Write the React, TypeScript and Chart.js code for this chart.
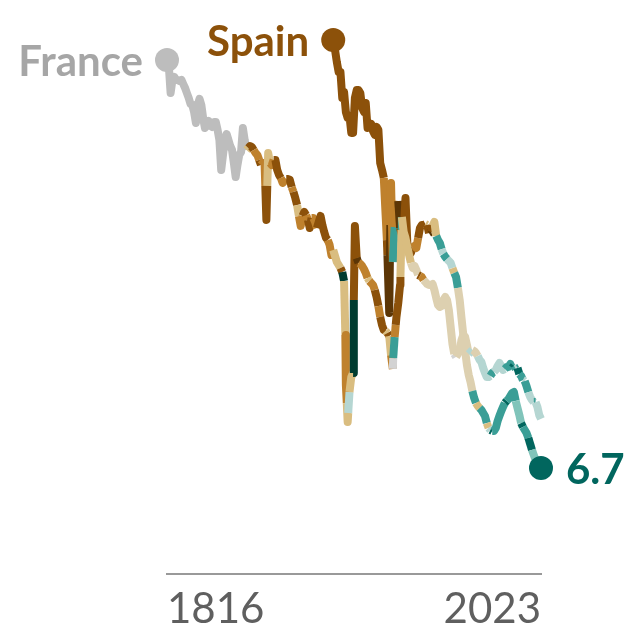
import { useEffect, useRef } from 'react';
import { Chart, registerables } from 'chart.js';

Chart.register(...registerables);

const tickYears = [1816, 2023];

const palette: Record<string, string> = {
  grey: '#bdbdbd',
  pgrey: '#d3d3d3',
  dbrown: '#5c3606',
  brown: '#8c510a',
  orange: '#bf812d',
  tan: '#d9bd80',
  pale: '#ddd0b0',
  light: '#b5d6d2',
  mid: '#80c4ba',
  teal: '#3a9e96',
  dark: '#01665e',
  green: '#003c30',
};

// births per 1000: [year, value]
const franceSeries = [
  [1816, 32.49], [1817, 32.11], [1818, 30.4], [1819, 31.23], [1820, 31.42], [1821, 31.23], [1822, 31.23], [1823, 31.16],
  [1824, 31.23], [1825, 30.97], [1826, 30.72], [1827, 30.4], [1828, 30.09], [1829, 29.71], [1830, 29.65], [1831, 29.2],
  [1832, 28.51], [1833, 29.65], [1834, 30.03], [1835, 29.65], [1836, 28.82], [1837, 28.19], [1838, 28.38], [1839, 28.64],
  [1840, 28.38], [1841, 28.26], [1842, 28.57], [1843, 28.57], [1844, 28.07], [1845, 27.43], [1846, 25.54], [1847, 26.49],
  [1848, 27.43], [1849, 27.81], [1850, 27.43], [1851, 27.05], [1852, 26.8], [1853, 25.98], [1854, 25.09], [1855, 25.85],
  [1856, 26.49], [1857, 26.68], [1858, 28.19], [1859, 27.43], [1860, 26.8], [1861, 26.93], [1862, 27.05], [1863, 26.99],
  [1864, 26.8], [1865, 26.61], [1866, 26.49], [1867, 26.17], [1868, 25.85], [1869, 25.98], [1870, 25.92], [1870.4, 24.53],
  [1871, 22.38], [1871.5, 24.53], [1872, 26.61], [1873, 25.98], [1874, 25.85], [1875, 26.17], [1876, 26.17], [1877, 25.54],
  [1878, 25.22], [1879, 25.03], [1880, 24.72], [1881, 24.84], [1882, 24.97], [1883, 24.97], [1884, 24.91], [1885, 24.46],
  [1886, 24.15], [1887, 23.77], [1888, 23.32], [1889, 22.63], [1890, 22.0], [1891, 22.63], [1892, 22.88], [1893, 22.69],
  [1894, 22.38], [1895, 21.87], [1896, 22.5], [1897, 22.5], [1898, 22.25], [1899, 21.87], [1900, 22.25], [1901, 22.63],
  [1902, 22.06], [1903, 21.62], [1904, 21.24], [1905, 21.11], [1906, 20.8], [1907, 20.16], [1908, 20.48], [1909, 20.1],
  [1910, 19.72], [1911, 19.53], [1912, 19.34], [1913, 19.09], [1914, 18.52], [1914.7, 15.11], [1915, 11.95], [1915.5, 10.81],
  [1916, 9.61], [1916.3, 10.18], [1917, 11.5], [1918, 12.45], [1919, 12.71], [1919.4, 17.32], [1920, 22.0], [1921, 19.97], [1922, 19.66],
  [1923, 19.6], [1924, 19.47], [1925, 19.28], [1926, 19.03], [1927, 18.71], [1928, 18.52], [1929, 18.39], [1930, 18.27],
  [1931, 17.95], [1932, 17.51], [1933, 16.94], [1934, 16.25], [1935, 15.74], [1936, 15.42], [1937, 15.36], [1938, 15.23],
  [1939, 15.04], [1940, 13.84], [1941, 12.96], [1941.2, 13.65], [1942, 14.98], [1942.6, 15.74], [1943, 16.25], [1944, 17.13],
  [1945, 18.27], [1945.2, 18.77], [1945.8, 21.74], [1946, 22.57], [1947, 21.62], [1948, 21.24], [1949, 20.67], [1950, 20.16],
  [1951, 19.66], [1952, 19.34], [1953, 19.47], [1954, 19.22], [1955, 18.9], [1956, 18.84], [1957, 18.77], [1958, 18.58],
  [1959, 18.46], [1960, 18.33], [1961, 18.27], [1962, 18.27], [1963, 18.33], [1964, 17.95], [1965, 17.45], [1966, 17.0],
  [1967, 16.88], [1968, 16.94], [1969, 17.32], [1970, 17.51], [1971, 17.32], [1972, 16.69], [1973, 15.61], [1974, 14.54],
  [1975, 13.91], [1976, 13.72], [1977, 13.91], [1978, 14.1], [1979, 14.79], [1980, 15.11], [1981, 14.98], [1982, 14.48],
  [1983, 13.91], [1984, 14.03], [1985, 14.16], [1986, 14.1], [1987, 13.97], [1988, 13.78], [1989, 13.53], [1990, 13.4],
  [1991, 13.02], [1992, 12.71], [1993, 12.45], [1994, 12.45], [1995, 12.52], [1996, 12.71], [1997, 12.77], [1998, 12.9],
  [1999, 13.15], [2000, 13.34], [2001, 13.15], [2002, 12.9], [2003, 12.96], [2004, 13.08], [2005, 13.08], [2006, 13.27],
  [2007, 13.02], [2008, 13.15], [2009, 12.96], [2010, 13.02], [2011, 12.64], [2012, 12.52], [2013, 12.26], [2014, 12.2],
  [2015, 11.88], [2016, 11.5], [2017, 11.19], [2018, 11.0], [2019, 10.87], [2020, 10.87], [2021, 10.56], [2022, 10.05],
  [2023, 9.8],
];

const spainSeries = [
  [1908, 33.75], [1909, 33.12], [1910, 32.36], [1911, 31.73], [1912, 31.73], [1913, 30.09], [1914, 30.47], [1915, 29.2],
  [1916, 28.82], [1917, 28.95], [1918, 27.88], [1919, 27.88], [1920, 30.09], [1921, 30.59], [1922, 30.59], [1923, 30.4],
  [1924, 29.46], [1925, 29.2], [1926, 29.77], [1927, 28.19], [1928, 28.38], [1929, 28.45], [1930, 28.0], [1931, 27.75],
  [1932, 28.26], [1933, 28.07], [1934, 25.98], [1935, 25.54], [1936, 25.03], [1937, 22.69], [1937.7, 21.11], [1938, 20.16],
  [1939, 16.5], [1939.6, 22.06], [1940, 24.72], [1941, 19.72], [1942, 21.93], [1943, 22.69], [1944, 23.58], [1945, 21.87],
  [1946, 21.43], [1947, 21.62], [1948, 23.77], [1949, 20.92], [1950, 20.48], [1951, 20.29], [1952, 20.61], [1953, 20.73],
  [1954, 20.61], [1955, 21.24], [1956, 21.87], [1957, 22.06], [1958, 22.06], [1959, 22.12], [1960, 22.06], [1961, 21.55],
  [1962, 21.62], [1963, 22.0], [1964, 22.25], [1965, 21.37], [1966, 21.11], [1967, 20.92], [1968, 20.54], [1969, 20.23],
  [1970, 20.04], [1971, 19.91], [1972, 19.79], [1973, 19.66], [1974, 19.34], [1975, 19.03], [1976, 18.77], [1977, 18.08],
  [1978, 17.32], [1979, 16.18], [1980, 15.11], [1981, 14.1], [1982, 13.21], [1983, 12.58], [1984, 12.14], [1985, 11.57],
  [1986, 11.13], [1987, 10.81], [1988, 10.62], [1989, 10.49], [1990, 10.37], [1991, 10.18], [1992, 9.99], [1993, 9.54],
  [1994, 9.23], [1995, 9.1], [1996, 9.04], [1997, 9.04], [1998, 9.23], [1999, 9.67], [2000, 9.99], [2001, 10.3],
  [2002, 10.56], [2003, 10.81], [2004, 10.94], [2005, 11.06], [2006, 11.25], [2007, 11.44], [2008, 11.5], [2009, 10.94],
  [2010, 10.49], [2011, 10.05], [2012, 9.54], [2013, 9.29], [2014, 9.1], [2015, 8.91], [2016, 8.6], [2017, 8.22],
  [2018, 7.84], [2019, 7.52], [2020, 7.21], [2021, 7.08], [2022, 6.89], [2023, 6.7],
];

// colour runs: the year each run starts, and its colour
const franceBandYears = [
  1816, 1860, 1861, 1864, 1867, 1868, 1870.4, 1871.5, 1873, 1875, 1879, 1882, 1885, 1886, 1888, 1889, 1891, 1893, 1894,
  1896, 1899, 1905, 1908, 1912, 1913, 1914, 1914.7, 1915.5, 1916.3, 1917, 1919, 1919.4, 1921, 1922, 1927, 1928, 1931, 1933,
  1934, 1937, 1938, 1939, 1940, 1941, 1941.2, 1942, 1942.6, 1945.2, 1945.8, 1946, 1951, 1955, 1956, 1958, 1975, 1976,
  1983, 1985, 1988, 1995, 1997, 2003, 2007, 2008, 2009, 2010, 2011, 2013, 2014, 2016, 2019, 2020,
];
const franceBandColors = [
  'grey', 'tan', 'brown', 'orange', 'brown', 'orange', 'brown', 'tan', 'orange', 'brown', 'orange', 'brown', 'orange', 'brown', 'tan', 'orange', 'brown', 'orange', 'brown',
  'orange', 'brown', 'orange', 'tan', 'brown', 'green', 'tan', 'orange', 'tan', 'light', 'tan', 'green', 'brown', 'dbrown', 'orange', 'tan', 'orange', 'brown', 'orange',
  'brown', 'tan', 'brown', 'tan', 'orange', 'pgrey', 'teal', 'orange', 'brown', 'tan', 'teal', 'tan', 'pale', 'brown', 'orange', 'pale', 'pgrey', 'pale',
  'light', 'pale', 'light', 'teal', 'light', 'teal', 'dark', 'teal', 'light', 'dark', 'teal', 'light', 'teal', 'light', 'teal', 'light',
];

const spainBandYears = [
  1908, 1936, 1937.7, 1938, 1939.6, 1941, 1942, 1944, 1945, 1952, 1955, 1959, 1960, 1961, 1962, 1963, 1965, 1968, 1969,
  1971, 1974, 1975, 1977, 1985, 1987, 1989, 1993, 1994, 1995, 1996, 2003, 2004, 2009, 2012, 2013, 2016, 2018,
];
const spainBandColors = [
  'brown', 'orange', 'brown', 'dbrown', 'orange', 'teal', 'orange', 'dbrown', 'brown', 'orange', 'brown', 'tan', 'brown', 'dbrown', 'brown', 'tan', 'teal', 'light', 'teal',
  'light', 'tan', 'teal', 'pale', 'teal', 'tan', 'teal', 'tan', 'light', 'dark', 'teal', 'dark', 'teal', 'mid', 'dark', 'teal', 'dark', 'mid',
];

const toPoints = (series: number[][]) => series.map(([x, y]) => ({ x, y }));

const bandColor = (years: number[], colors: string[], year: number) => {
  let found = colors[0];
  years.forEach((start, i) => {
    if (year >= start) found = colors[i];
  });
  return palette[found];
};

// names next to the first dots, value next to the last one
const labelPlugin = {
  id: 'endLabels',
  afterDatasetsDraw(chart: any) {
    const { ctx, scales } = chart;
    const put = (text: string, year: number, value: number, dx: number, color: string, align: CanvasTextAlign) => {
      ctx.save();
      ctx.font = 'bold 42px Lato';
      ctx.fillStyle = color;
      ctx.textAlign = align;
      ctx.textBaseline = 'middle';
      ctx.fillText(text, scales.x.getPixelForValue(year) + dx, scales.y.getPixelForValue(value) + 2);
      ctx.restore();
    };
    put('France', 1816, 32.49, -24, '#a6a6a6', 'right');
    put('Spain', 1908, 33.75, -24, palette.brown, 'right');
    put('6.7', 2023, 6.7, 25, palette.dark, 'left');
  },
};

export default function App() {
  const chartRef = useRef<HTMLCanvasElement | null>(null);

  useEffect(() => {
    if (!chartRef.current) return;

    const chartInstance = new Chart(chartRef.current, {
      type: 'line',
      data: {
        datasets: [
          {
            label: 'France',
            data: toPoints(franceSeries),
            borderWidth: 8,
            clip: false,
            segment: {
              borderColor: (c: any) => bandColor(franceBandYears, franceBandColors, c.p0.parsed.x),
            },
            pointRadius: (c: any) => (c.dataIndex === 0 ? 12 : 0),
            pointBorderWidth: 0,
            pointBackgroundColor: palette.grey,
          },
          {
            label: 'Spain',
            data: toPoints(spainSeries),
            borderWidth: 8,
            clip: false,
            segment: {
              borderColor: (c: any) => bandColor(spainBandYears, spainBandColors, c.p0.parsed.x),
            },
            pointRadius: (c: any) => (c.dataIndex === 0 || c.dataIndex === spainSeries.length - 1 ? 12 : 0),
            pointBorderWidth: 0,
            pointBackgroundColor: (c: any) => (c.dataIndex === 0 ? palette.brown : palette.dark),
          },
        ],
      },
      options: {
        animation: false,
        responsive: false,
        layout: { autoPadding: false, padding: { left: 167, right: 99, top: 0, bottom: 0 } },
        elements: {
          line: { borderCapStyle: 'butt', borderJoinStyle: 'round', tension: 0 },
          point: { hoverRadius: 0 },
        },
        plugins: { legend: { display: false }, tooltip: { enabled: false } },
        scales: {
          x: {
            type: 'linear',
            min: 1816,
            max: 2023,
            grid: { display: false },
            border: { display: true, color: '#999999', width: 2 },
            afterBuildTicks: (scale: any) => {
              scale.ticks = tickYears.map((value) => ({ value }));
            },
            // fixed axis height, and no room kept for half a tick label above the plot
            afterFit: (scale: any) => {
              scale.height = 66;
              scale.paddingTop = 0;
              scale.paddingBottom = 0;
              scale.paddingLeft = 0;
              scale.paddingRight = 0;
            },
            ticks: {
              autoSkip: false,
              maxRotation: 0,
              align: 'inner',
              padding: 2,
              color: '#5f5f5f',
              font: { family: 'Lato', size: 42 },
              callback: (value: any) => String(value),
            },
          },
          y: { display: false, min: 0, max: 36.28 },
        },
      },
      plugins: [labelPlugin],
    } as any);

    return () => chartInstance.destroy();
  }, []);

  return (
    <div style={{ position: 'absolute', left: 0, top: 0, width: 640, height: 640 }}>
      <canvas ref={chartRef} width={640} height={640} style={{ display: 'block' }}></canvas>
    </div>
  );
}
